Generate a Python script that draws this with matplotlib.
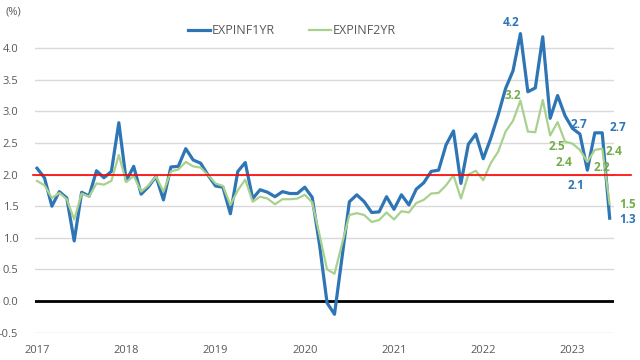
import numpy as np
import matplotlib.pyplot as plt

plt.rcParams['font.family'] = ['Open Sans', 'DejaVu Sans']

# monthly readings, Jan 2017 - Jun 2023
expinf1yr = [2.10, 1.95, 1.50, 1.73, 1.63, 0.95, 1.72, 1.66, 2.06, 1.95, 2.05, 2.82,
             1.90, 2.13, 1.69, 1.81, 1.97, 1.60, 2.12, 2.13, 2.41, 2.23, 2.18, 1.99,
             1.82, 1.80, 1.38, 2.05, 2.19, 1.62, 1.76, 1.72, 1.65, 1.73, 1.70, 1.70,
             1.80, 1.64, 0.88, -0.03, -0.21, 0.68, 1.57, 1.68, 1.57, 1.40, 1.41, 1.65,
             1.45, 1.68, 1.52, 1.77, 1.87, 2.05, 2.07, 2.47, 2.69, 1.86, 2.48, 2.64,
             2.25, 2.57, 2.94, 3.36, 3.64, 4.23, 3.31, 3.37, 4.18, 2.89, 3.25, 2.93,
             2.73, 2.64, 2.07, 2.66, 2.66, 1.31]
expinf2yr = [1.90, 1.83, 1.63, 1.71, 1.61, 1.29, 1.70, 1.65, 1.86, 1.84, 1.90, 2.31,
             1.88, 1.98, 1.73, 1.83, 1.97, 1.73, 2.05, 2.08, 2.20, 2.13, 2.11, 1.99,
             1.86, 1.82, 1.52, 1.75, 1.92, 1.57, 1.65, 1.62, 1.53, 1.61, 1.61, 1.62,
             1.68, 1.56, 1.04, 0.50, 0.43, 0.90, 1.36, 1.39, 1.36, 1.25, 1.28, 1.40,
             1.29, 1.42, 1.40, 1.55, 1.60, 1.70, 1.71, 1.83, 1.99, 1.62, 2.00, 2.06,
             1.91, 2.18, 2.36, 2.68, 2.85, 3.17, 2.68, 2.67, 3.18, 2.62, 2.83, 2.52,
             2.49, 2.39, 2.20, 2.39, 2.41, 1.53]
years = ['2017', '2018', '2019', '2020', '2021', '2022', '2023']
target = 2.0

# point labels: (month index, text, x offset px, y offset px)
labels1 = [(65, '4.2', -9, 11), (72, '2.7', 6, 4), (74, '2.1', -11, -15),
           (76, '2.7', 16, 5), (77, '1.3', 18, -1)]
labels2 = [(65, '3.2', -8, 5), (72, '2.5', -16, -3), (73, '2.4', -16, -13),
           (74, '2.2', 15, -6), (76, '2.4', 12, -3), (77, '1.5', 18, 0)]

blue = '#2e75b6'
green = '#a9d18e'
green_txt = '#70ad47'
grey = '#595959'

x = np.arange(len(expinf1yr))

fig = plt.figure(figsize=(6.4, 3.6), dpi=100)
ax = fig.add_axes([0.0547, 0.0761, 0.9043, 0.878])

for v in np.arange(-0.5, 4.01, 0.5):
    ax.axhline(v, color='#d9d9d9', lw=1, zorder=1)
ax.axhline(0, color='black', lw=2, zorder=2)

ax.plot(x, expinf1yr, color=blue, lw=2.3, label='EXPINF1YR', zorder=3)
ax.plot(x, expinf2yr, color=green, lw=1.6, label='EXPINF2YR', zorder=3)
ax.axhline(target, xmin=-0.004, xmax=1.029, color='red', lw=1.2, zorder=4, clip_on=False)

for i, t, dx, dy in labels1:
    ax.annotate(t, (x[i], expinf1yr[i]), xytext=(dx, dy), textcoords='offset pixels',
                ha='center', va='center', color=blue, fontsize=8.5, fontweight='bold',
                zorder=5, annotation_clip=False)
for i, t, dx, dy in labels2:
    ax.annotate(t, (x[i], expinf2yr[i]), xytext=(dx, dy), textcoords='offset pixels',
                ha='center', va='center', color=green_txt, fontsize=8.5, fontweight='bold',
                zorder=5, annotation_clip=False)

ax.set_xlim(-0.27, 77.55)
ax.set_ylim(-0.5, 4.5)
ax.set_xticks(np.arange(0, 12 * len(years), 12))
ax.set_xticklabels(years)
ax.set_yticks(np.arange(-0.5, 4.01, 0.5))
ax.set_yticklabels([f'{v:.1f}' for v in np.arange(-0.5, 4.01, 0.5)])
ax.tick_params(length=0, labelsize=8, colors=grey)
ax.tick_params(axis='y', pad=12)
ax.tick_params(axis='x', pad=9)
for s in ax.spines.values():
    s.set_visible(False)

fig.text(0.008, 0.966, '(%)', fontsize=8, color=grey, va='center')
ax.legend(loc='center', bbox_to_anchor=(0.444, 0.955), ncol=2, frameon=False,
          fontsize=9, labelcolor=grey, handlelength=1.76, handletextpad=0.1,
          columnspacing=2.8)

fig.savefig('out.png', dpi=100)
